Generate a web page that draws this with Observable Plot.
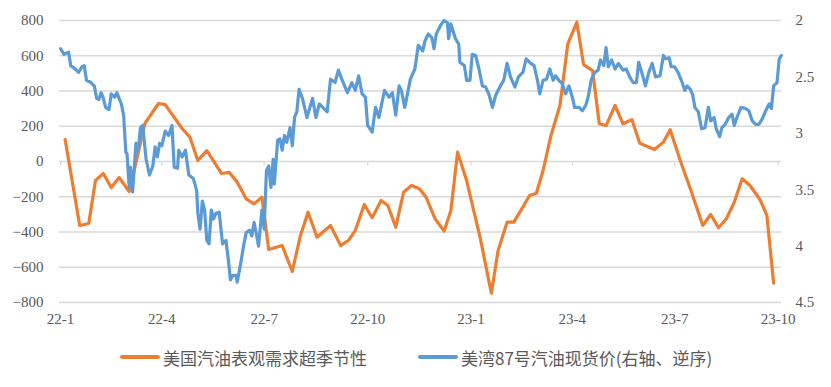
<!DOCTYPE html>
<html>
<head>
<meta charset="utf-8">
<script src="https://cdn.jsdelivr.net/npm/d3@7"></script>
<script src="https://cdn.jsdelivr.net/npm/@observablehq/plot@0.6"></script>
<style>
  html, body { margin: 0; padding: 0; background: #fff; }
  #wrap { position: relative; width: 831px; height: 387px; }
  .legend { position: absolute; top: 346px; height: 22px; display: flex; align-items: center;
            font-family: "Noto Sans CJK SC", sans-serif; font-size: 17px; color: #595959; white-space: nowrap; }
  .sw { width: 40px; height: 4px; margin-right: 3px; border-radius: 2px; }
</style>
</head>
<body>
<div id="wrap"></div>
<script>
// ---- data ----
const startDate = "2022-01-01";
const demandSeriesName = "美国汽油表观需求超季节性";
const priceSeriesName = "美湾87号汽油现货价(右轴、逆序)";

const demandDates = ["2022-01-05","2022-01-18","2022-01-26","2022-02-01","2022-02-08","2022-02-15","2022-02-22","2022-03-03","2022-03-08","2022-03-17",
  "2022-03-29","2022-04-04","2022-04-19","2022-04-26","2022-05-03","2022-05-11","2022-05-24","2022-05-31","2022-06-07","2022-06-15",
  "2022-06-22","2022-06-29","2022-07-05","2022-07-17","2022-07-26","2022-08-02","2022-08-09","2022-08-17","2022-08-29","2022-09-07",
  "2022-09-14","2022-09-20","2022-09-28","2022-10-05","2022-10-13","2022-10-19","2022-10-26","2022-11-02","2022-11-09","2022-11-16",
  "2022-11-22","2022-11-30","2022-12-08","2022-12-14","2022-12-20","2022-12-28","2023-01-09","2023-01-19","2023-01-25","2023-02-02",
  "2023-02-08","2023-02-16","2023-02-22","2023-02-28","2023-03-06","2023-03-13","2023-03-21","2023-03-28","2023-04-05","2023-04-11",
  "2023-04-19","2023-04-25","2023-05-01","2023-05-09","2023-05-16","2023-05-24","2023-05-31","2023-06-13","2023-06-21","2023-06-27",
  "2023-07-06","2023-07-16","2023-07-26","2023-08-02","2023-08-09","2023-08-16","2023-08-23","2023-08-30","2023-09-06","2023-09-15",
  "2023-09-21","2023-09-27"];
const demandValues = [125,-363,-352,-108,-68,-148,-91,-170,-34,216,
  329,323,187,138,6,62,-68,-62,-117,-212,
  -240,-203,-499,-477,-624,-426,-288,-430,-363,-477,
  -448,-392,-244,-319,-221,-250,-373,-174,-136,-155,
  -203,-325,-395,-278,53,-108,-430,-747,-505,-344,
  -344,-259,-193,-180,-51,148,318,668,790,550,
  516,214,204,318,214,237,104,68,110,180,
  6,-174,-363,-301,-376,-325,-231,-98,-136,-217,
  -306,-690];

// spot price: days since startDate, price (USD/gal)
const priceDays = [0,3,7,9,13,16,19,21,23,27,30,32,34,36,38,40,43,45,48,50,52,54,56,58,59,61,62,64,67,69,71,73,76,79,82,84,86,88,90,93,96,99,101,104,
  105,108,111,114,118,121,122,124,126,128,130,132,134,136,138,141,144,147,149,151,153,156,157,160,163,165,168,170,172,174,176,179,181,183,185,187,189,190,193,195,197,199,201,204,206,208,210,
  212,215,219,224,227,230,234,237,240,244,247,250,255,259,262,265,268,271,273,277,280,283,288,292,295,298,301,303,306,311,315,318,
  322,324,327,330,332,334,338,341,344,345,347,351,354,355,359,361,364,366,369,372,375,378,381,384,387,391,394,397,400,404,407,411,414,418,421,
  424,426,429,432,435,438,440,443,446,449,452,455,457,461,464,467,469,472,475,478,480,483,485,487,490,493,496,500,503,506,509,512,514,517,520,523,526,529,
  533,536,538,541,543,546,549,552,555,557,560,562,564,567,570,573,576,578,581,583,586,588,591,594,597,599,601,605,609,612,615,618,621,624,627,630,632,634,637,639,641];
const priceValues = [2.25,2.30,2.28,2.40,2.43,2.46,2.41,2.40,2.53,2.55,2.58,2.69,2.70,2.64,2.69,2.77,2.79,2.65,2.68,2.64,2.69,2.74,2.84,3.17,3.18,3.48,3.30,3.52,3.09,3.15,2.95,2.93,3.23,3.37,3.29,3.12,3.21,3.09,3.11,2.98,3.02,2.93,3.30,3.31,
  3.15,3.21,3.15,3.37,3.40,3.51,3.71,3.85,3.60,3.68,3.95,3.98,3.68,3.76,3.71,3.70,3.98,3.95,4.11,4.30,4.26,4.26,4.32,4.16,3.98,3.88,3.86,3.91,3.79,3.89,4.00,3.68,3.85,3.33,3.29,3.48,3.23,3.45,3.06,3.05,3.15,3.02,3.08,2.95,3.11,2.86,2.81,
  2.61,2.69,2.86,2.69,2.86,2.74,2.78,2.81,2.52,2.55,2.44,2.52,2.64,2.55,2.62,2.49,2.65,2.68,2.93,2.99,2.77,2.86,2.62,2.68,2.64,2.84,2.58,2.62,2.77,2.52,2.43,2.22,
  2.27,2.18,2.12,2.15,2.25,2.12,2.04,2.00,2.02,2.16,2.03,2.16,2.21,2.37,2.40,2.53,2.53,2.30,2.31,2.43,2.58,2.59,2.66,2.77,2.66,2.58,2.53,2.38,2.50,2.59,2.50,2.46,2.34,2.38,2.40,
  2.53,2.65,2.53,2.52,2.43,2.53,2.49,2.53,2.56,2.65,2.58,2.68,2.77,2.77,2.80,2.75,2.68,2.52,2.46,2.44,2.35,2.40,2.24,2.41,2.35,2.43,2.38,2.44,2.43,2.50,2.55,2.55,2.37,2.47,2.58,2.46,2.38,2.50,
  2.49,2.31,2.34,2.33,2.41,2.41,2.46,2.53,2.62,2.58,2.61,2.66,2.77,2.81,2.96,2.95,2.77,2.89,2.86,2.96,3.03,2.95,2.92,2.86,2.83,2.93,2.87,2.77,2.78,2.80,2.89,2.92,2.92,2.87,2.80,2.74,2.78,2.58,2.55,2.34,2.31];

const quarterTicks = ["2022-01-01","2022-04-01","2022-07-01","2022-10-01","2023-01-01","2023-04-01","2023-07-01","2023-10-01"];
const quarterLabels = ["22-1","22-4","22-7","22-10","23-1","23-4","23-7","23-10"];
const leftTicks = [-800,-600,-400,-200,0,200,400,600,800];
const rightTicks = [2,2.5,3,3.5,4,4.5];

// ---- build ----
const parse = d3.utcParse("%Y-%m-%d");
const start = parse(startDate);
const demand = demandDates.map((d, i) => ({date: parse(d), value: demandValues[i]}));
const price = priceDays.map((d, i) => ({date: d3.utcDay.offset(start, d), value: priceValues[i]}));
const qDates = quarterTicks.map(parse);
const qLabel = new Map(qDates.map((d, i) => [d.getTime(), quarterLabels[i]]));

// right axis (reversed) mapped onto left scale: 2 -> 800, 4.5 -> -800
const rMin = rightTicks[0], rMax = rightTicks[rightTicks.length - 1];
const lMin = leftTicks[0], lMax = leftTicks[leftTicks.length - 1];
const toLeft = p => lMax - (p - rMin) / (rMax - rMin) * (lMax - lMin);
const fromLeft = v => rMin + (lMax - v) / (lMax - lMin) * (rMax - rMin);

const font = "'Liberation Serif', 'Times New Roman', serif";

const chart = Plot.plot({
  width: 831,
  height: 336,
  marginLeft: 59,
  marginRight: 50,
  marginTop: 20,
  marginBottom: 34,
  style: {fontFamily: font, fontSize: "15px", color: "#595959", background: "#fff"},
  x: {type: "utc", domain: [d3.utcDay.offset(start, -1), d3.utcDay.offset(start, 641)]},
  y: {domain: [lMin, lMax]},
  marks: [
    Plot.ruleY(leftTicks, {stroke: "#d9d9d9", strokeWidth: 1.3}),
    Plot.ruleX(qDates, {x: d => d, y1: 0, y2: -25, stroke: "#d9d9d9", strokeWidth: 1.3}),
    Plot.axisY({ticks: leftTicks, tickSize: 0, tickPadding: 16, label: null, fill: "#595959"}),
    Plot.axisY({anchor: "right", ticks: rightTicks.map(toLeft), tickFormat: v => String(+fromLeft(v).toFixed(1)),
      tickSize: 0, tickPadding: 14, label: null, fill: "#595959"}),
    Plot.axisX({ticks: qDates, tickFormat: d => qLabel.get(d.getTime()), tickSize: 0, tickPadding: 11, label: null, fill: "#595959"}),
    Plot.line(demand, {x: "date", y: "value", stroke: "#ED7D31", strokeWidth: 3.2, strokeLinejoin: "round", strokeLinecap: "round"}),
    Plot.line(price, {x: "date", y: d => toLeft(d.value), stroke: "#5B9BD5", strokeWidth: 3.2, strokeLinejoin: "round", strokeLinecap: "round"})
  ]
});

const wrap = document.getElementById("wrap");
wrap.appendChild(chart);

function legendItem(color, text, left) {
  const div = document.createElement("div");
  div.className = "legend";
  div.style.left = left + "px";
  const sw = document.createElement("div");
  sw.className = "sw";
  sw.style.background = color;
  const span = document.createElement("span");
  span.textContent = text;
  div.appendChild(sw);
  div.appendChild(span);
  wrap.appendChild(div);
}
legendItem("#ED7D31", demandSeriesName, 120);
legendItem("#5B9BD5", priceSeriesName, 418);
</script>
</body>
</html>
